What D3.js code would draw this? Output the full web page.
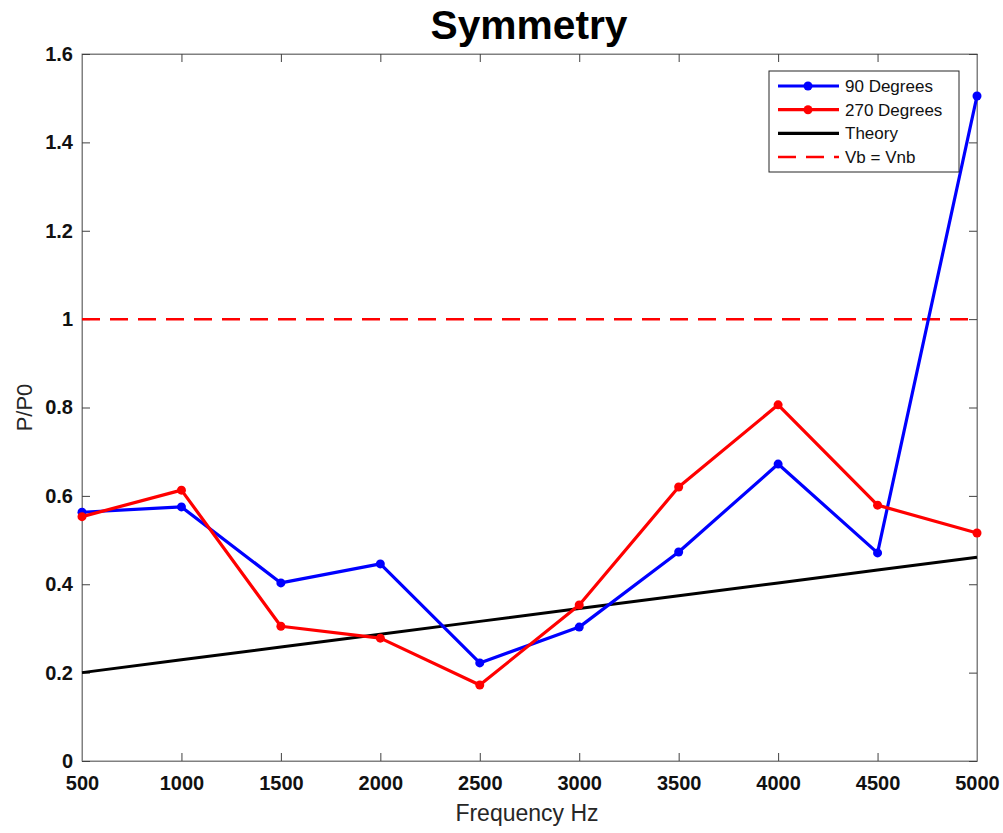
<!DOCTYPE html>
<html><head><meta charset="utf-8">
<script src="https://cdn.jsdelivr.net/npm/d3@7"></script>
<style>body{margin:0;background:#fff;font-family:"Liberation Sans",Arial,sans-serif;}</style>
</head><body><svg id="c" width="1003" height="833"></svg>
<script>
const freqs = [500,1000,1500,2000,2500,3000,3500,4000,4500,5000];
const deg90 = [0.563,0.575,0.403,0.446,0.222,0.303,0.473,0.672,0.471,1.505];
const deg270 = [0.553,0.613,0.305,0.278,0.172,0.353,0.620,0.806,0.579,0.516];
const theory = [0.200,0.229,0.258,0.287,0.316,0.345,0.374,0.403,0.432,0.461];
const refLevel = 1;
const xTicks = [500,1000,1500,2000,2500,3000,3500,4000,4500,5000];
const yTicks = [0,0.2,0.4,0.6,0.8,1,1.2,1.4,1.6];
const seriesNames = ["90 Degrees","270 Degrees","Theory","Vb = Vnb"];

const svg = d3.select("#c");
const L=82,R=977,T=54,B=761;
const x = d3.scaleLinear().domain([500,5000]).range([L,R]);
const y = d3.scaleLinear().domain([0,1.6]).range([B,T]);

svg.append("rect").attr("x",L).attr("y",T).attr("width",R-L).attr("height",B-T)
  .attr("fill","none").attr("stroke","#808080").attr("stroke-width",1);
const xb = svg.append("g").attr("transform",`translate(0,${B})`)
  .call(d3.axisBottom(x).tickValues(xTicks).tickSizeInner(-8).tickSizeOuter(0).tickPadding(15).tickFormat(d3.format("d")));
const xt = svg.append("g").attr("transform",`translate(0,${T})`)
  .call(d3.axisTop(x).tickValues(xTicks).tickSizeInner(-8).tickSizeOuter(0).tickFormat(""));
const yl = svg.append("g").attr("transform",`translate(${L},0)`)
  .call(d3.axisLeft(y).tickValues(yTicks).tickSizeInner(-8).tickSizeOuter(0).tickPadding(9).tickFormat(d=>String(+d.toFixed(1))));
const yr = svg.append("g").attr("transform",`translate(${R},0)`)
  .call(d3.axisRight(y).tickValues(yTicks).tickSizeInner(-8).tickSizeOuter(0).tickFormat(""));
[xb,xt,yl,yr].forEach(g=>{
  g.select(".domain").attr("stroke","#808080");
  g.selectAll(".tick line").attr("stroke","#404040");
  g.selectAll("text").attr("fill","#111").attr("font-size",20).attr("font-weight","bold")
   .attr("font-family","'Liberation Sans',Arial,sans-serif");
});
xb.selectAll("text").attr("dy","0.71em");

svg.append("line").attr("x1",x(500)).attr("x2",x(5000)).attr("y1",y(refLevel)).attr("y2",y(refLevel))
  .attr("stroke","#ff0000").attr("stroke-width",2.5).attr("stroke-dasharray","18,10");

const line = d3.line().x((d,i)=>x(freqs[i])).y(d=>y(d));
svg.append("path").datum(theory).attr("d",line).attr("fill","none").attr("stroke","#000").attr("stroke-width",3);

function series(vals,col){
  svg.append("path").datum(vals).attr("d",line).attr("fill","none").attr("stroke",col).attr("stroke-width",3.2).attr("stroke-linejoin","round");
  svg.append("g").selectAll("circle").data(vals).join("circle")
    .attr("cx",(d,i)=>x(freqs[i])).attr("cy",d=>y(d)).attr("r",4.5).attr("fill",col);
}
series(deg90,"#0000ff");
series(deg270,"#ff0000");

svg.append("text").attr("x",529).attr("y",39).attr("text-anchor","middle")
  .attr("font-size",40).attr("font-weight","bold").attr("fill","#000")
  .attr("textLength",197).attr("lengthAdjust","spacingAndGlyphs")
  .attr("font-family","'Liberation Sans',Arial,sans-serif").text("Symmetry");
svg.append("text").attr("x",527).attr("y",821).attr("text-anchor","middle")
  .attr("font-size",23).attr("fill","#262626").text("Frequency Hz");
svg.append("text").attr("transform",`translate(32,${(T+B)/2}) rotate(-90)`).attr("text-anchor","middle")
  .attr("font-size",22).attr("fill","#262626").text("P/P0");

const lg = svg.append("g");
lg.append("rect").attr("x",769).attr("y",71).attr("width",190).attr("height",101).attr("fill","#fff").attr("stroke","#262626").attr("stroke-width",1);
const legItems = [
  {name:seriesNames[0],col:"#0000ff",dash:null,marker:true},
  {name:seriesNames[1],col:"#ff0000",dash:null,marker:true},
  {name:seriesNames[2],col:"#000",dash:null,marker:false},
  {name:seriesNames[3],col:"#ff0000",dash:"18,10",marker:false}
];
legItems.forEach((it,i)=>{
  const yy = 86 + i*23.7;
  lg.append("line").attr("x1",778).attr("x2",839).attr("y1",yy).attr("y2",yy).attr("stroke",it.col)
    .attr("stroke-width",it.dash?2.5:3.2).attr("stroke-dasharray",it.dash);
  if(it.marker) lg.append("circle").attr("cx",808).attr("cy",yy).attr("r",4.5).attr("fill",it.col);
  lg.append("text").attr("x",845).attr("y",yy).attr("dy","0.35em").attr("font-size",17).attr("fill","#111").text(it.name);
});
</script></body></html>
